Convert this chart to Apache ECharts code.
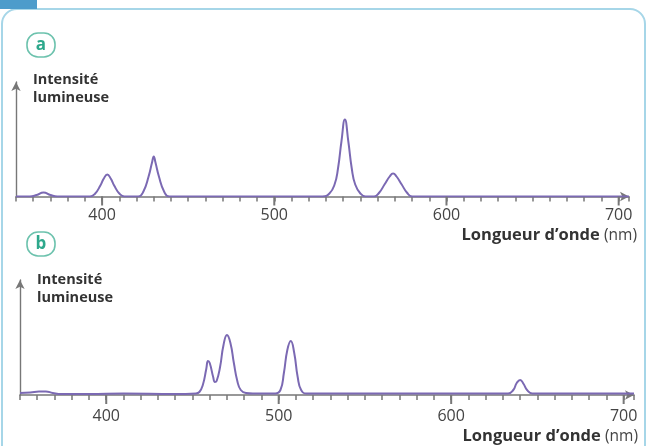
<!DOCTYPE html>
<html>
<head>
<meta charset="utf-8">
<script src="https://cdn.jsdelivr.net/npm/echarts@6/dist/echarts.min.js"></script>
<style>html,body{margin:0;padding:0;background:#fff}#c{width:648px;height:446px}</style>
</head>
<body>
<div id="c"></div>
<script>
// Wavelength (nm) / relative intensity
const spectrumA = [
  [350,0],[358,0],[362,1.5],[366,4],[370,1.5],[374,0],
  [393,0],[396,3],[399,11],[401,18],[403,22],[405,18],[407,11],[410,3],[413,0],
  [421,0],[424,5],[427,20],[429,34],[430,40],[431,34],[433,20],[436,5],[439,0],
  [528,0],[532,3],[535,12],[537,28],[539,55],[541,77],[543,55],[545,28],[547,12],[550,3],[553,0],
  [558,0],[561,4],[564,12],[567,20],[569,23],[571,20],[574,12],[577,4],[580,0],
  [706,0]
];
const spectrumB = [
  [350,2],[356,2.5],[361,3.5],[365,3.5],[369,2],[374,1],[390,1],[410,1.5],[440,1],[452,1.5],
  [454,3],[456,10],[458,26],[459,34],[460,32],[462,18],[463,13],[464,14],[466,28],[468,50],[470,60],[472,52],[474,32],[476,14],[478,5],[481,2],[485,1.5],
  [498,1.5],[501,5],[503,22],[505,45],[507,54],[509,42],[511,18],[513,5],[516,1.5],
  [580,1.5],[620,1.5],[633,1.5],[636,5],[638,12],[640,15],[642,11],[644,5],[647,1.5],
  [706,1.5]
];
const tickLabels = [400, 500, 600, 700];

const axisGray = '#777777';
const lineColor = '#7b69b3';
const FONT = '"Open Sans", "Noto Sans", sans-serif';

function xAxisFor(gi, margin) {
  return {
    type: 'value', gridIndex: gi, min: 350, max: 706, interval: 10, position: 'bottom',
    axisLine: { show: true, onZero: false, lineStyle: { color: axisGray, width: 1.6 }, symbol: ['none', 'arrow'], symbolSize: [7, 9] },
    axisTick: { show: true, inside: false, length: 5, lineStyle: { color: axisGray, width: 1.5 } },
    axisLabel: { show: true, color: '#444', fontSize: 16, fontFamily: FONT, margin: margin,
      formatter: function (v) { return tickLabels.indexOf(v) >= 0 ? String(v) : ''; } },
    splitLine: { show: false }
  };
}
function yAxisFor(gi, max) {
  return {
    type: 'value', gridIndex: gi, min: 0, max: max,
    axisLine: { show: true, lineStyle: { color: axisGray, width: 1.4 }, symbol: ['none', 'arrow'], symbolSize: [7, 9] },
    axisTick: { show: false }, axisLabel: { show: false }, splitLine: { show: false }
  };
}
function majorTicks(xi, yi) {
  return {
    type: 'scatter', xAxisIndex: xi, yAxisIndex: yi, silent: true, clip: false,
    data: tickLabels.map(function (v) { return [v, 0]; }),
    symbol: 'rect', symbolSize: [2, 9], symbolOffset: [0, 4.5],
    itemStyle: { color: axisGray, opacity: 1 }, z: 6
  };
}

const chart = echarts.init(document.getElementById('c'), null, { renderer: 'canvas' });
chart.setOption({
  animation: false,
  backgroundColor: '#fff',
  grid: [
    { left: 16, right: 19, top: 82, height: 114.5 },
    { left: 20, right: 14, top: 280, height: 115 }
  ],
  xAxis: [xAxisFor(0, 11), xAxisFor(1, 13)],
  yAxis: [yAxisFor(0, 114.5), yAxisFor(1, 115)],
  series: [
    { type: 'line', xAxisIndex: 0, yAxisIndex: 0, data: spectrumA, showSymbol: false, smooth: 0.5,
      lineStyle: { color: lineColor, width: 2 }, z: 5 },
    { type: 'line', xAxisIndex: 1, yAxisIndex: 1, data: spectrumB, showSymbol: false, smooth: 0.5,
      lineStyle: { color: lineColor, width: 2 }, z: 5 },
    majorTicks(0, 0),
    majorTicks(1, 1)
  ],
  graphic: [
    { type: 'rect', shape: { x: 2, y: 9, width: 643, height: 470, r: 15 }, style: { fill: 'none', stroke: '#a6d6e8', lineWidth: 2 }, z: 1 },
    { type: 'rect', shape: { x: 0, y: 0, width: 37, height: 9 }, style: { fill: '#4d9ccb' }, z: 2 },
    { type: 'rect', shape: { x: 27, y: 33, width: 28, height: 24, r: 11 }, style: { fill: '#fff', stroke: '#6cc2ad', lineWidth: 1.6 }, z: 3 },
    { type: 'text', x: 41, y: 45, style: { text: 'a', fill: '#2ea88c', font: 'bold 17px ' + FONT, align: 'center', verticalAlign: 'middle' }, z: 4 },
    { type: 'rect', shape: { x: 27, y: 232, width: 28, height: 24, r: 11 }, style: { fill: '#fff', stroke: '#6cc2ad', lineWidth: 1.6 }, z: 3 },
    { type: 'text', x: 41, y: 244, style: { text: 'b', fill: '#2ea88c', font: 'bold 17px ' + FONT, align: 'center', verticalAlign: 'middle' }, z: 4 },
    { type: 'text', x: 33, y: 80, style: { text: 'Intensité', fill: '#333', font: 'bold 14.5px ' + FONT, align: 'left', verticalAlign: 'middle' }, z: 4 },
    { type: 'text', x: 33, y: 98, style: { text: 'lumineuse', fill: '#333', font: 'bold 14.5px ' + FONT, align: 'left', verticalAlign: 'middle' }, z: 4 },
    { type: 'text', x: 37, y: 280, style: { text: 'Intensité', fill: '#333', font: 'bold 14.5px ' + FONT, align: 'left', verticalAlign: 'middle' }, z: 4 },
    { type: 'text', x: 37, y: 298, style: { text: 'lumineuse', fill: '#333', font: 'bold 14.5px ' + FONT, align: 'left', verticalAlign: 'middle' }, z: 4 },
    { type: 'text', x: 637, y: 235.5, style: {
        text: '{b|Longueur d’onde }{n|(nm)}', align: 'right', verticalAlign: 'middle',
        rich: { b: { font: 'bold 16.5px ' + FONT, fill: '#333' }, n: { font: '15.5px ' + FONT, fill: '#444' } } }, z: 4 },
    { type: 'text', x: 638, y: 436.5, style: {
        text: '{b|Longueur d’onde }{n|(nm)}', align: 'right', verticalAlign: 'middle',
        rich: { b: { font: 'bold 16.5px ' + FONT, fill: '#333' }, n: { font: '15.5px ' + FONT, fill: '#444' } } }, z: 4 }
  ]
});
</script>
</body>
</html>
